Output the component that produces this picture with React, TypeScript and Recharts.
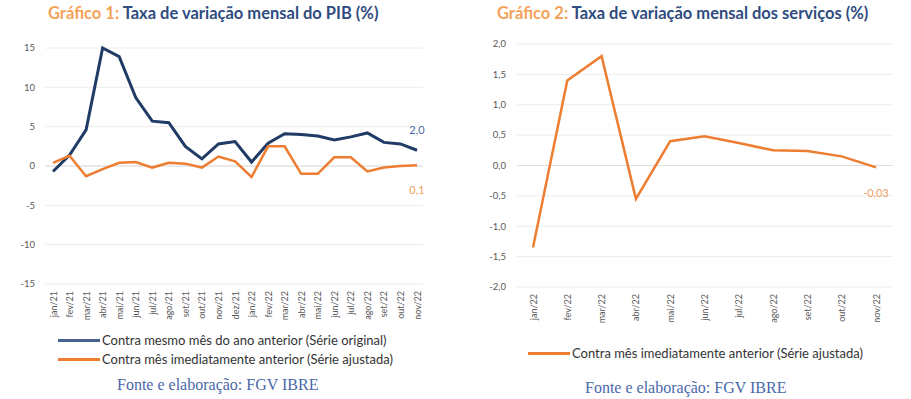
import React from 'react';
import { LineChart, Line, XAxis, YAxis, CartesianGrid, ReferenceLine, LabelList } from 'recharts';

const months1 = [
  'jan/21', 'fev/21', 'mar/21', 'abr/21', 'mai/21', 'jun/21', 'jul/21', 'ago/21', 'set/21', 'out/21', 'nov/21', 'dez/21',
  'jan/22', 'fev/22', 'mar/22', 'abr/22', 'mai/22', 'jun/22', 'jul/22', 'ago/22', 'set/22', 'out/22', 'nov/22',
];
const yoy = [-0.7, 1.4, 4.6, 15.0, 13.9, 8.7, 5.7, 5.5, 2.5, 0.9, 2.8, 3.1, 0.5, 2.9, 4.1, 4.0, 3.8, 3.3, 3.7, 4.2, 3.0, 2.8, 2.0];
const mom = [0.4, 1.3, -1.3, -0.4, 0.4, 0.5, -0.2, 0.4, 0.3, -0.2, 1.2, 0.6, -1.4, 2.5, 2.5, -1.0, -1.0, 1.1, 1.1, -0.7, -0.2, 0.0, 0.1];
const ticks1 = [-15, -10, -5, 0, 5, 10, 15];

const months2 = ['jan/22', 'fev/22', 'mar/22', 'abr/22', 'mai/22', 'jun/22', 'jul/22', 'ago/22', 'set/22', 'out/22', 'nov/22'];
const servicos = [-1.35, 1.4, 1.8, -0.55, 0.4, 0.48, 0.37, 0.25, 0.24, 0.15, -0.03];
const ticks2 = [-2, -1.5, -1, -0.5, 0, 0.5, 1, 1.5, 2];

const NAVY = '#1f3b66';
const ORANGE = '#ed7d31';
const TITLE_ORANGE = '#f4a259';
const TITLE_NAVY = '#2f4c80';
const TICK = '#595959';
const FONT = 'Lato, "Open Sans", sans-serif';

const data1 = months1.map((m, i) => ({ m, yoy: yoy[i], mom: mom[i] }));
const data2 = months2.map((m, i) => ({ m, v: servicos[i] }));

const fmt = (v: number, d = 1) => v.toFixed(d).replace('.', ',');

const RotTick = (props: any) => {
  const { x, y, payload } = props;
  return (
    <text x={x} y={y} transform={`rotate(-90 ${x} ${y})`} textAnchor="end" dominantBaseline="central"
      fontSize={9} fill={TICK} fontFamily={FONT}>
      {payload.value}
    </text>
  );
};

const lastLabel = (count: number, color: string, dy: number, digits: number) => (props: any) => {
  const { x, y, index, value } = props;
  if (index !== count - 1) return null;
  return (
    <text x={x} y={y + dy} textAnchor="middle" dominantBaseline="central" fontSize={11} fill={color} fontFamily={FONT}>
      {fmt(value, digits)}
    </text>
  );
};

const Title = ({ left, num, text }: { left: number; num: string; text: string }) => (
  <div style={{ position: 'absolute', left, top: 3, fontFamily: FONT, fontWeight: 700, fontSize: 16.5, whiteSpace: 'nowrap' }}>
    <span style={{ color: TITLE_ORANGE }}>{num} </span>
    <span style={{ color: TITLE_NAVY }}>{text}</span>
  </div>
);

const LegendRow = ({ left, top, color, text }: { left: number; top: number; color: string; text: string }) => (
  <div style={{ position: 'absolute', left, top, display: 'flex', alignItems: 'center', fontFamily: FONT, fontSize: 13, color: '#333', whiteSpace: 'nowrap' }}>
    <div style={{ width: 42, height: 3, background: color, marginRight: 2 }} />
    <span>{text}</span>
  </div>
);

const Source = ({ left, top }: { left: number; top: number }) => (
  <div style={{ position: 'absolute', left, top, fontFamily: '"Liberation Serif", serif', fontSize: 16, color: '#4a68a8', whiteSpace: 'nowrap' }}>
    Fonte e elaboração: FGV IBRE
  </div>
);

export default function App() {
  return (
    <div style={{ position: 'absolute', left: 0, top: 0, width: 911, height: 399, background: '#fff', overflow: 'hidden' }}>
      <Title left={48} num="Gráfico 1:" text="Taxa de variação mensal do PIB (%)" />
      <div style={{ position: 'absolute', left: 0, top: 0 }}>
        <LineChart width={430} height={330} data={data1} margin={{ top: 48, right: 7, left: 0, bottom: 0 }}>
          <CartesianGrid vertical={false} stroke="#ececec" />
          <XAxis dataKey="m" interval={0} axisLine={false} tickLine={false} tickSize={0} tickMargin={7}
            height={46} padding={{ left: 8, right: 6 }} tick={<RotTick />} />
          <YAxis domain={[-15, 15]} ticks={ticks1} axisLine={false} tickLine={false} tickSize={0} tickMargin={10}
            width={45} tick={{ fontSize: 9.5, fill: TICK, fontFamily: FONT }} />
          <ReferenceLine y={0} stroke="#dedede" />
          <Line dataKey="yoy" stroke={NAVY} strokeWidth={3} dot={false} isAnimationActive={false}>
            <LabelList dataKey="yoy" content={lastLabel(yoy.length, '#4a6aa0', -21, 1)} />
          </Line>
          <Line dataKey="mom" stroke={ORANGE} strokeWidth={2.5} dot={false} isAnimationActive={false}>
            <LabelList dataKey="mom" content={lastLabel(mom.length, '#f0a060', 24, 1)} />
          </Line>
        </LineChart>
      </div>
      <LegendRow left={58} top={332} color={'#44618f'} text="Contra mesmo mês do ano anterior (Série original)" />
      <LegendRow left={58} top={351} color={ORANGE} text="Contra mês imediatamente anterior (Série ajustada)" />
      <Source left={117} top={376} />

      <Title left={497} num="Gráfico 2:" text="Taxa de variação mensal dos serviços (%)" />
      <div style={{ position: 'absolute', left: 460, top: 0 }}>
        <LineChart width={440} height={330} data={data2} margin={{ top: 44, right: 7, left: 0, bottom: 0 }}>
          <CartesianGrid vertical={false} stroke="#ececec" />
          <XAxis dataKey="m" interval={0} axisLine={false} tickLine={false} tickSize={0} tickMargin={7}
            height={43} padding={{ left: 16, right: 17 }} tick={<RotTick />} />
          <YAxis domain={[-2, 2]} ticks={ticks2} axisLine={false} tickLine={false} tickSize={0} tickMargin={11}
            width={57} tickFormatter={(v: number) => fmt(v)} tick={{ fontSize: 9.5, fill: TICK, fontFamily: FONT }} />
          <ReferenceLine y={0} stroke="#dedede" />
          <Line dataKey="v" stroke={ORANGE} strokeWidth={2.5} dot={false} isAnimationActive={false}>
            <LabelList dataKey="v" content={lastLabel(servicos.length, '#f0a060', 25, 2)} />
          </Line>
        </LineChart>
      </div>
      <LegendRow left={528} top={345} color={ORANGE} text="Contra mês imediatamente anterior (Série ajustada)" />
      <Source left={585} top={379} />
    </div>
  );
}
